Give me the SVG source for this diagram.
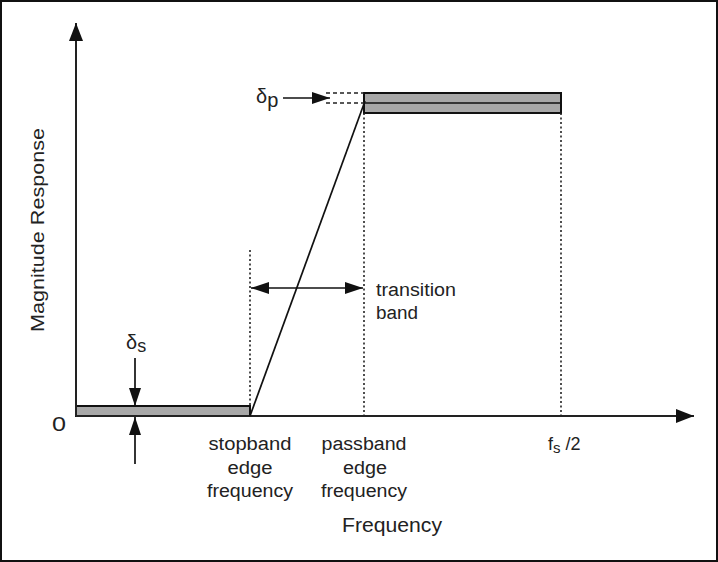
<svg xmlns="http://www.w3.org/2000/svg" width="718" height="562" viewBox="0 0 718 562">
<defs>
<style>
.t{font-family:"Liberation Sans",Arial,sans-serif;fill:#222;font-size:18px}
.c{text-anchor:middle}
.ax{stroke:#222;stroke-width:2;fill:none}
.ln{stroke:#111;stroke-width:1.7;fill:none}
.dot{stroke:#222;stroke-width:1.6;stroke-dasharray:2 2.5;fill:none}
.dash{stroke:#222;stroke-width:1.6;stroke-dasharray:4 3;fill:none}
.band{fill:#a8a8a8;stroke:#111;stroke-width:2}
</style>
<marker id="ah" markerUnits="userSpaceOnUse" markerWidth="20" markerHeight="16" refX="18" refY="7" orient="auto-start-reverse">
<path d="M0,0 L18,7 L0,14 z" fill="#111"/>
</marker>
<marker id="ahs" markerUnits="userSpaceOnUse" markerWidth="20" markerHeight="14" refX="18" refY="6" orient="auto-start-reverse">
<path d="M0,0 L18,6 L0,12 z" fill="#111"/>
</marker>
</defs>
<rect x="0" y="0" width="718" height="562" fill="#fff"/>
<rect x="1" y="1" width="716" height="560" fill="none" stroke="#111" stroke-width="2"/>

<g id="bands">
<rect class="band" x="76" y="406" width="174" height="10"/>
<rect class="band" x="364" y="93" width="197" height="20"/>
<line class="ln" x1="364" y1="103" x2="561" y2="103" stroke-width="2"/>
</g>

<g id="connectors">
<line class="ax" x1="76" y1="416" x2="76" y2="23" marker-end="url(#ah)"/>
<line class="ax" x1="76" y1="416" x2="694" y2="416" marker-end="url(#ah)"/>
<line class="ln" x1="250" y1="416" x2="365" y2="101"/>
<line class="dot" x1="250" y1="250" x2="250" y2="406"/>
<line class="dot" x1="364" y1="113" x2="364" y2="416"/>
<line class="dot" x1="561" y1="113" x2="561" y2="416"/>
<line class="dash" x1="326" y1="93" x2="364" y2="93"/>
<line class="dash" x1="326" y1="103" x2="364" y2="103"/>
<line class="ln" x1="283" y1="98" x2="330" y2="98" marker-end="url(#ahs)"/>
<line class="ln" x1="135" y1="358" x2="135" y2="406" marker-end="url(#ahs)"/>
<line class="ln" x1="135" y1="464" x2="135" y2="417" marker-end="url(#ahs)"/>
<line class="ln" x1="251" y1="288" x2="363" y2="288" marker-start="url(#ahs)" marker-end="url(#ahs)"/>
</g>

<g id="labels">
<text class="t" x="44" y="230" transform="rotate(-90 44 230)" text-anchor="middle" textLength="204" lengthAdjust="spacingAndGlyphs">Magnitude Response</text>
<text class="t" x="52" y="431" style="font-size:21px" textLength="14" lengthAdjust="spacingAndGlyphs">0</text>
<text class="t" x="256" y="103" style="font-size:20px">δ<tspan dy="4">p</tspan></text>
<text class="t" x="126" y="349" style="font-size:20px">δ<tspan dy="3" style="font-size:18px">s</tspan></text>
<text class="t" x="376" y="296" textLength="80" lengthAdjust="spacingAndGlyphs">transition</text>
<text class="t" x="376" y="319" textLength="42" lengthAdjust="spacingAndGlyphs">band</text>
<text class="t c" x="250" y="450" textLength="83" lengthAdjust="spacingAndGlyphs">stopband</text>
<text class="t c" x="250" y="474" textLength="45" lengthAdjust="spacingAndGlyphs">edge</text>
<text class="t c" x="250" y="497" textLength="86" lengthAdjust="spacingAndGlyphs">frequency</text>
<text class="t c" x="364" y="450" textLength="85" lengthAdjust="spacingAndGlyphs">passband</text>
<text class="t c" x="365" y="474" textLength="44" lengthAdjust="spacingAndGlyphs">edge</text>
<text class="t c" x="364" y="497" textLength="86" lengthAdjust="spacingAndGlyphs">frequency</text>
<text class="t" x="548" y="450">f<tspan dy="3" style="font-size:15px">s</tspan><tspan dy="-3"> /2</tspan></text>
<text class="t c" x="392" y="532" style="font-size:20px" textLength="100" lengthAdjust="spacingAndGlyphs">Frequency</text>
</g>
</svg>
